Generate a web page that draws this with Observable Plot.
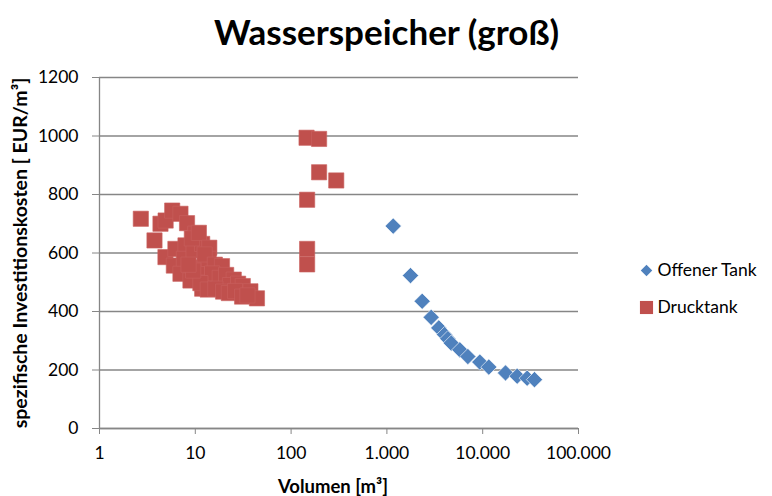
<!DOCTYPE html>
<html><head><meta charset="utf-8">
<script src="https://cdn.jsdelivr.net/npm/d3@7"></script>
<script src="https://cdn.jsdelivr.net/npm/@observablehq/plot@0.6"></script>
<style>
body{margin:0;background:#fff;}
#chart svg{display:block}
</style></head><body>
<div id="chart"></div>
<script>
// Offener Tank (blue diamonds)
const offenVolumen = [1164, 1763, 2335, 2898, 3480, 3990, 4325, 4690, 5770, 7000, 9330, 11580, 17300, 22900, 29100, 34700];
const offenKosten  = [692, 523, 435, 380, 344, 321, 307, 292, 269, 246, 227, 210, 190, 179, 172, 167];

// Drucktank (red squares)
const druckVolumen = [2.7, 3.75, 4.33, 4.9, 5.74, 7.0, 8.2, 10, 4.88, 6.2, 5.97, 7.9, 7.6, 7.0, 9.6, 8.9, 11.8, 10.5, 11.8, 11.8,
  9.2, 10.9, 14.0, 13.8, 12.5, 16, 19, 15, 18, 21, 25.2, 23, 28, 31.3, 37.6, 44,
  11.3, 13.5, 16.2, 19.5, 22.4, 26, 30.8, 35, 9.5, 8.5,
  145, 196, 196, 296, 147, 147, 147];
const druckKosten = [717, 643, 700, 711, 745, 734, 702, 666, 586, 614, 557, 626, 580, 529, 609, 506, 517, 551, 631, 478,
  650, 669, 618, 580, 595, 560, 555, 530, 515, 525, 509, 490, 495, 487, 469, 445,
  497, 475, 478, 468, 463, 470, 451, 455, 540, 560,
  994, 990, 876, 848, 782, 614, 561];

const xTicks = [1, 10, 100, 1000, 10000, 100000];
const yTicks = [0, 200, 400, 600, 800, 1000, 1200];
const seriesNames = ["Offener Tank", "Drucktank"];
const seriesColors = ["#4F81BD", "#C0504D"];
const titleText = "Wasserspeicher (groß)";
const xTitle = "Volumen [m³]";
const yTitle = "spezifische Investitionskosten [ EUR/m³]";

const offen = offenVolumen.map((v, i) => ({v, k: offenKosten[i]}));
const druck = druckVolumen.map((v, i) => ({v, k: druckKosten[i]}));

const de = d3.formatLocale({decimal: ",", thousands: ".", grouping: [3], currency: ["", "€"]});
const fmt = de.format(",d");
const FONT = "Lato, 'Open Sans', sans-serif";
const grey = "#868686";

const plot = Plot.plot({
  width: 772, height: 496,
  marginTop: 77, marginBottom: 68, marginLeft: 99, marginRight: 194,
  style: {fontFamily: FONT, fontSize: "17.5px", color: "#000", background: "#fff"},
  x: {type: "log", domain: [1, 100000], label: null},
  y: {domain: [0, 1200], label: null},
  marks: [
    Plot.gridY(yTicks, {stroke: grey, strokeOpacity: 1, strokeWidth: 1.3}),
    Plot.ruleX([1], {stroke: grey, strokeWidth: 1.3}),
    Plot.ruleY([0], {stroke: grey, strokeWidth: 1.3}),
    Plot.axisX(xTicks, {tickSize: 6, tickPadding: 12, tickFormat: fmt, stroke: grey, strokeOpacity: 1, label: null}),
    Plot.axisY(yTicks, {tickSize: 7, tickPadding: 14, tickFormat: d3.format("d"), stroke: grey, strokeOpacity: 1, label: null}),
    Plot.dot(druck, {x: "v", y: "k", symbol: "square", r: 8.6, fill: seriesColors[1], stroke: "#c9625f", strokeWidth: 0.6}),
    Plot.dot(offen, {x: "v", y: "k", symbol: "diamond2", r: 7.3, fill: seriesColors[0], stroke: "#fff", strokeWidth: 0.6}),
    Plot.text([xTitle], {frameAnchor: "bottom", dx: -6, dy: 59, lineAnchor: "middle", fontWeight: "bold", fontSize: 18.5}),
    Plot.text([yTitle], {frameAnchor: "left", dx: -79, rotate: -90, textAnchor: "middle", lineAnchor: "middle", fontWeight: "bold", fontSize: 19.5}),
    Plot.text([titleText], {frameAnchor: "top", dx: 47.5, dy: -44, lineAnchor: "middle", fontWeight: "bold", fontSize: 35}),
    // legend
    Plot.dot([seriesNames[0]], {frameAnchor: "right", dx: 68, dy: 17.5, symbol: "diamond2", r: 5.2, fill: seriesColors[0]}),
    Plot.dot([seriesNames[1]], {frameAnchor: "right", dx: 68, dy: 54.5, symbol: "square", r: 7.4, fill: seriesColors[1]}),
    Plot.text([seriesNames[0]], {frameAnchor: "right", dx: 79, dy: 17.5, textAnchor: "start", lineAnchor: "middle", fontSize: 17.5}),
    Plot.text([seriesNames[1]], {frameAnchor: "right", dx: 79, dy: 54.5, textAnchor: "start", lineAnchor: "middle", fontSize: 17.5})
  ]
});
document.getElementById("chart").append(plot);
</script>
</body></html>
